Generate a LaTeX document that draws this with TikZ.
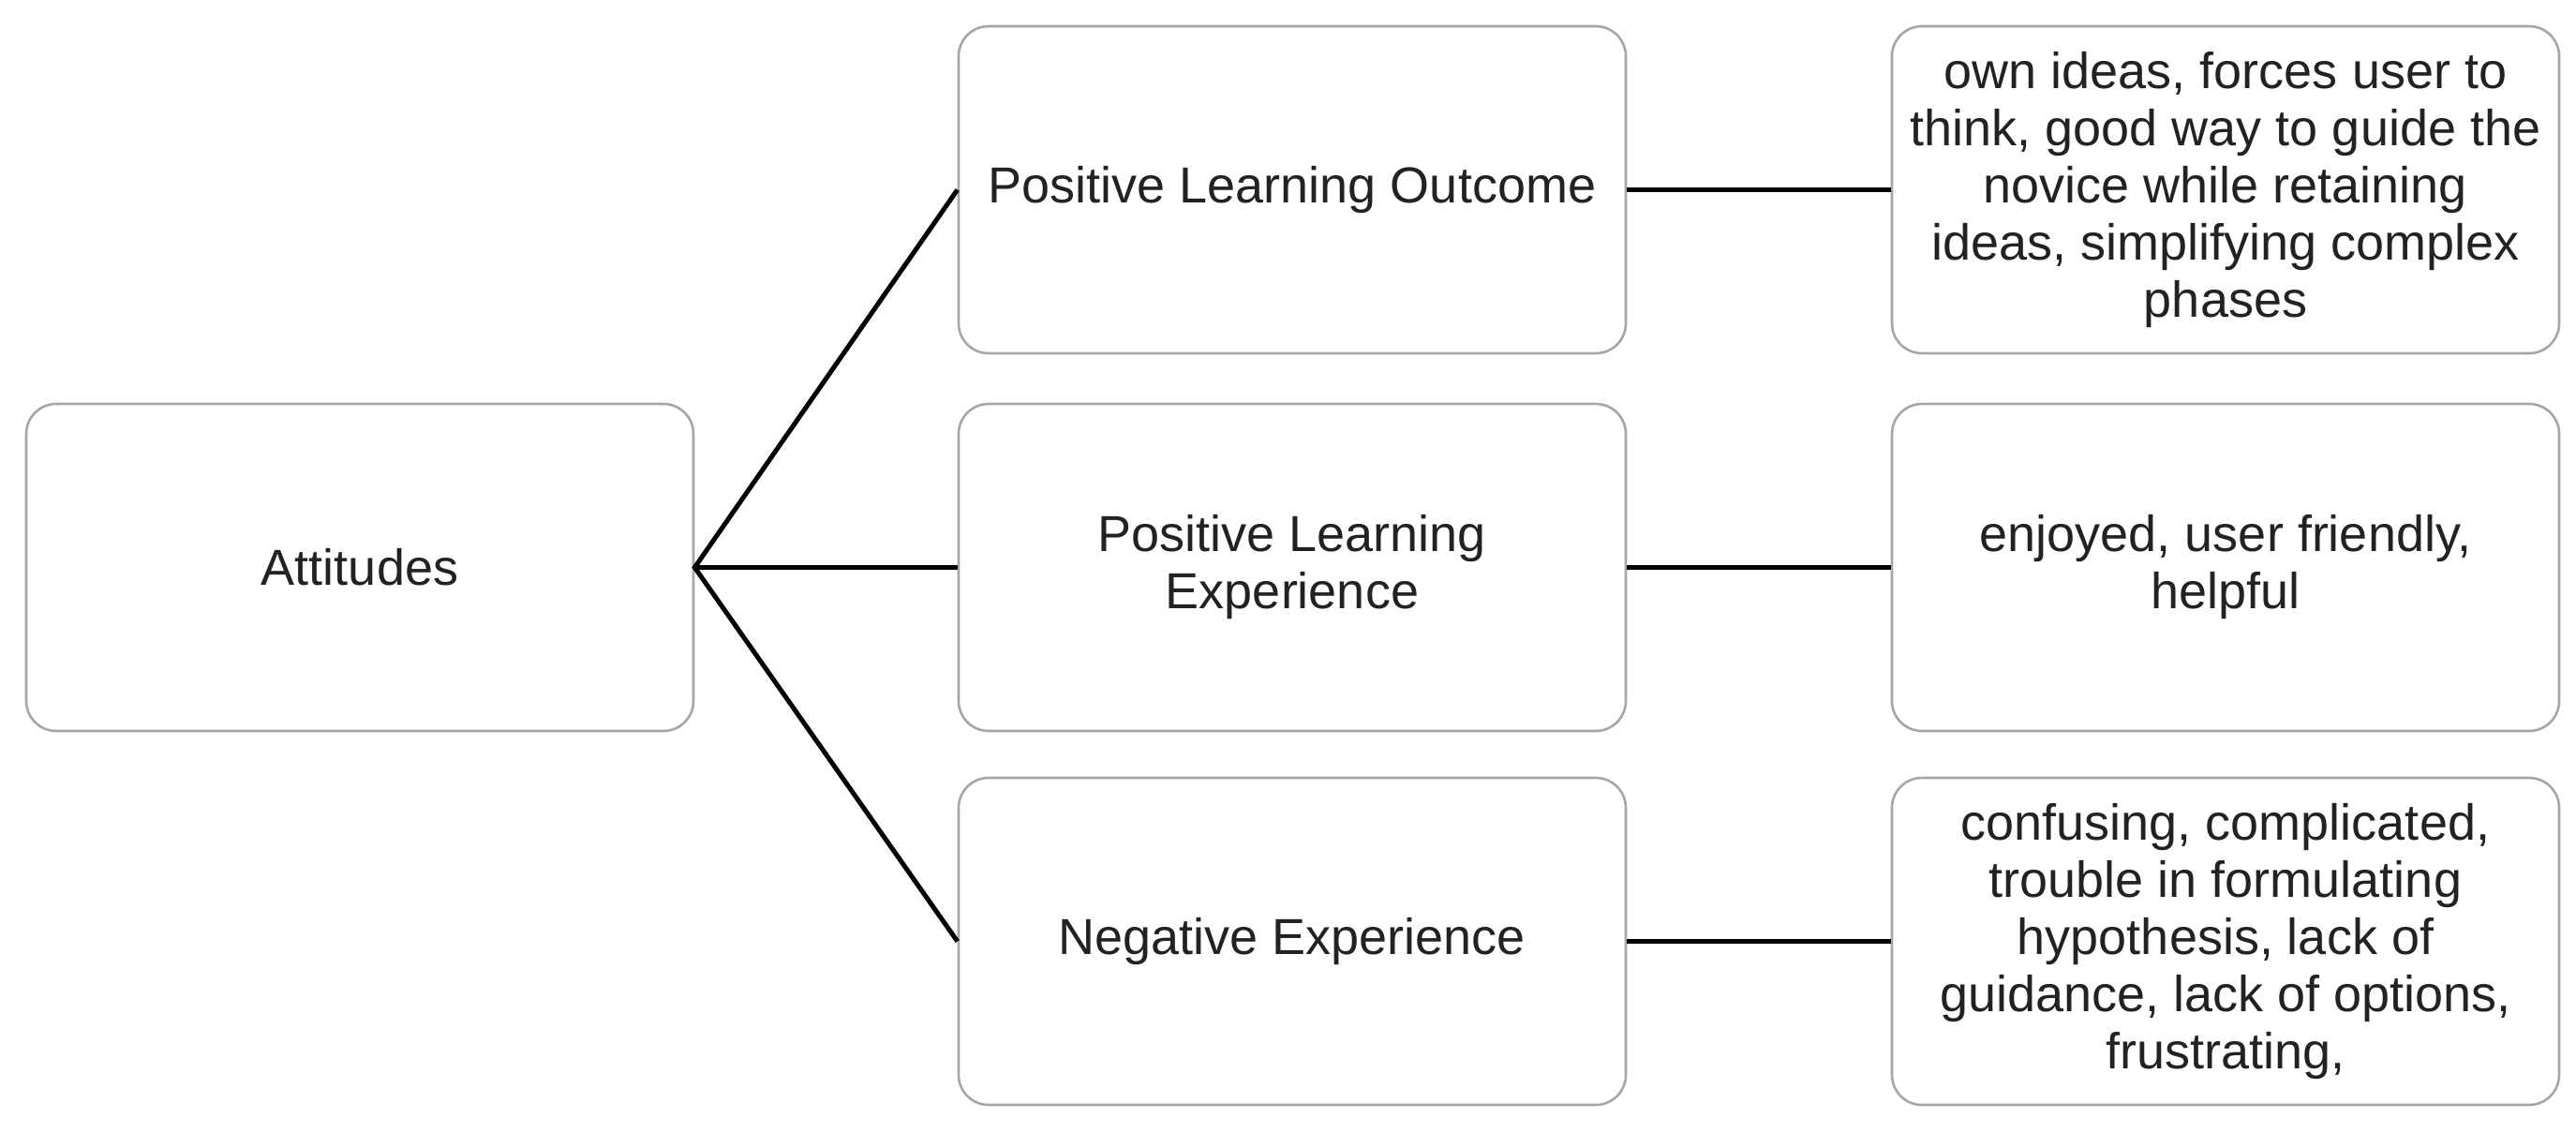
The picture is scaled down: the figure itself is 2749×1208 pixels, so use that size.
\documentclass[tikz,border=0pt]{standalone}
\usepackage{fontspec}
\setmainfont{Liberation Sans}
\begin{document}
\begin{tikzpicture}[x=1pt,y=-1pt,
  box/.style={draw=boxgray, line width=2.6pt, rounded corners=32pt, fill=white,
    minimum width=712pt, minimum height=349pt, inner sep=0pt, align=center,
    text=textgray, font=\fontsize{54}{61}\selectfont},
  conn/.style={draw=black, line width=5pt}]
\definecolor{boxgray}{HTML}{A6A6A6}
\definecolor{textgray}{HTML}{222222}
\useasboundingbox (0,0) rectangle (2749,1208);
\node[box] (att) at (384,605.5) {Attitudes};
\node[box] (plo) at (1379,202.5) {Positive Learning Outcome};
\node[box] (ple) at (1379,605.5) {Positive Learning\\Experience};
\node[box] (neg) at (1379,1004.5) {Negative Experience};
\node[box] (r1) at (2375,202.5) {own ideas, forces user to\\think, good way to guide the\\novice while retaining\\ideas, simplifying complex\\phases};
\node[box] (r2) at (2375,605.5) {enjoyed, user friendly,\\helpful};
\node[box] (r3) at (2375,1004.5) {confusing, complicated,\\trouble in formulating\\hypothesis, lack of\\guidance, lack of options,\\frustrating,};
\draw[conn] (plo.west) -- (att.east) -- (neg.west);
\draw[conn] (att.east) -- (ple.west);
\draw[conn] (plo.east) -- (r1.west);
\draw[conn] (ple.east) -- (r2.west);
\draw[conn] (neg.east) -- (r3.west);
\end{tikzpicture}
\end{document}
